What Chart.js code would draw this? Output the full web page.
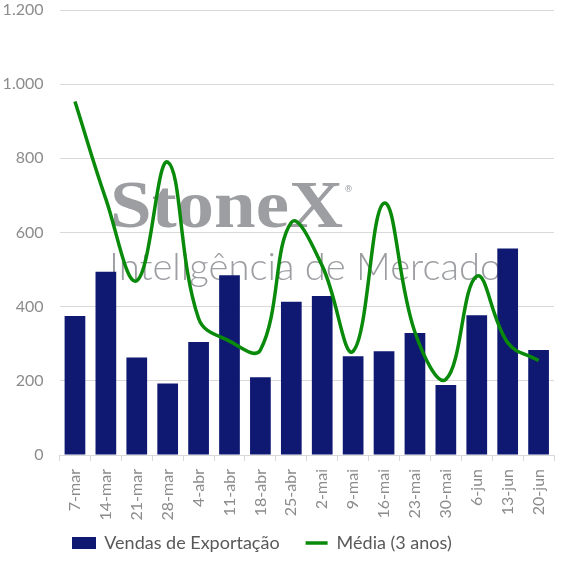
<!DOCTYPE html>
<html>
<head>
<meta charset="utf-8">
<script src="https://cdn.jsdelivr.net/npm/chart.js@4/dist/chart.umd.min.js"></script>
<style>
html,body{margin:0;padding:0;background:#fff;}
#wrap{position:relative;width:566px;height:567px;}
</style>
</head>
<body>
<div id="wrap"><canvas id="c" width="566" height="567"></canvas></div>
<script>
const categories = ['7-mar','14-mar','21-mar','28-mar','4-abr','11-abr','18-abr','25-abr','2-mai','9-mai','16-mai','23-mai','30-mai','6-jun','13-jun','20-jun'];
const vendasExportacao = [375, 494, 263, 193, 305, 485, 210, 413, 429, 266, 280, 329, 189, 377, 557, 283];
const media3Anos = [953, 690, 470, 790, 368, 307, 283, 627, 510, 280, 679, 331, 204, 482, 303, 255];
const seriesNames = ['Vendas de Exportação', 'Média (3 anos)'];
const yMax = 1200;
const yStep = 200;

const FONT = 'Lato, "Noto Sans", sans-serif';
const BAR_COLOR = '#0f1972';
const LINE_COLOR = '#0a8a0a';

function fmt(v){
  return String(Math.round(v)).replace(/\B(?=(\d{3})+(?!\d))/g, '.');
}

// legend swatch for bars
const barSwatch = document.createElement('canvas');
barSwatch.width = 24; barSwatch.height = 12;
(function(){ const g = barSwatch.getContext('2d'); g.fillStyle = BAR_COLOR; g.fillRect(0,0,24,12); })();

const watermark = {
  id: 'watermark',
  beforeDatasetsDraw(chart){
    const ctx = chart.ctx;
    ctx.save();
    ctx.fillStyle = '#9c9ea2';
    ctx.textBaseline = 'alphabetic';
    ctx.textAlign = 'left';
    const serif = '"Liberation Serif", "DejaVu Serif", serif';
    ctx.font = 'bold 100px ' + serif;
    const capH = ctx.measureText('X').actualBoundingBoxAscent;
    const size = 100 * 44 / capH;
    ctx.font = 'bold ' + size.toFixed(1) + 'px ' + serif;
    const w = ctx.measureText('StoneX').width;
    ctx.save();
    ctx.translate(110, 227);
    ctx.scale(233 / w, 1);
    ctx.fillText('StoneX', 0, 0);
    ctx.restore();
    ctx.font = '9px "DejaVu Sans", sans-serif';
    ctx.fillText('®', 344, 192);
    ctx.font = '300 36px ' + FONT;
    const w2 = ctx.measureText('Inteligência de Mercado').width;
    const s2 = 36 * 392 / w2;
    ctx.font = '300 ' + s2.toFixed(1) + 'px ' + FONT;
    ctx.fillText('Inteligência de Mercado', 109, 280);
    ctx.restore();
  }
};

const legendShift = {
  id: 'legendShift',
  afterLayout(chart){
    const lg = chart.legend;
    if (!lg) return;
    const pad = lg.options.labels.padding;
    const fs = lg.options.labels.font.size;
    const top = 543 - fs / 2 - pad;
    const dy = top - lg.top;
    lg.top += dy; lg.bottom += dy;
    lg.left -= 17; lg.right -= 17;
  }
};

new Chart(document.getElementById('c'), {
  data: {
    labels: categories,
    datasets: [
      {
        type: 'line',
        label: seriesNames[1],
        data: media3Anos,
        borderColor: LINE_COLOR,
        backgroundColor: LINE_COLOR,
        borderWidth: 3.5,
        pointRadius: 0,
        tension: 0.4,
        fill: false,
        order: 0
      },
      {
        type: 'bar',
        label: seriesNames[0],
        data: vendasExportacao,
        backgroundColor: BAR_COLOR,
        borderWidth: 0,
        barPercentage: 0.67,
        categoryPercentage: 1.0,
        order: 1
      }
    ]
  },
  options: {
    responsive: false,
    animation: false,
    devicePixelRatio: 1,
    layout: { padding: { top: 0, right: 7, left: 0, bottom: -12 } },
    plugins: {
      tooltip: { enabled: false },
      legend: {
        position: 'bottom',
        labels: {
          font: { family: FONT, size: 18 },
          color: '#595959',
          usePointStyle: true,
          pointStyleWidth: 22,
          boxHeight: 12,
          padding: 26,
          generateLabels(chart){
            return [
              { text: seriesNames[0], pointStyle: barSwatch, fillStyle: BAR_COLOR, strokeStyle: BAR_COLOR, lineWidth: 0, datasetIndex: 1, fontColor: '#595959' },
              { text: seriesNames[1], pointStyle: 'line', fillStyle: LINE_COLOR, strokeStyle: LINE_COLOR, lineWidth: 3.5, datasetIndex: 0, fontColor: '#595959' }
            ];
          }
        }
      }
    },
    scales: {
      x: {
        offset: true,
        afterFit(scale){ scale.height = 70; },
        grid: { display: true, drawOnChartArea: false, drawTicks: true, tickLength: 6, color: '#d9d9d9', offset: true },
        border: { display: true, color: '#d9d9d9' },
        ticks: {
          color: '#8c8c8c',
          font: { family: FONT, size: 16 },
          maxRotation: 90, minRotation: 90,
          autoSkip: false,
          padding: 8
        }
      },
      y: {
        min: 0, max: yMax,
        afterFit(scale){ scale.width = 59.5; scale.paddingTop = 10; },
        grid: { color: '#d9d9d9', drawTicks: false },
        border: { display: false },
        ticks: {
          stepSize: yStep,
          color: '#8c8c8c',
          font: { family: FONT, size: 16 },
          padding: 16,
          callback: (v) => fmt(v)
        }
      }
    }
  },
  plugins: [watermark, legendShift]
});
</script>
</body>
</html>
